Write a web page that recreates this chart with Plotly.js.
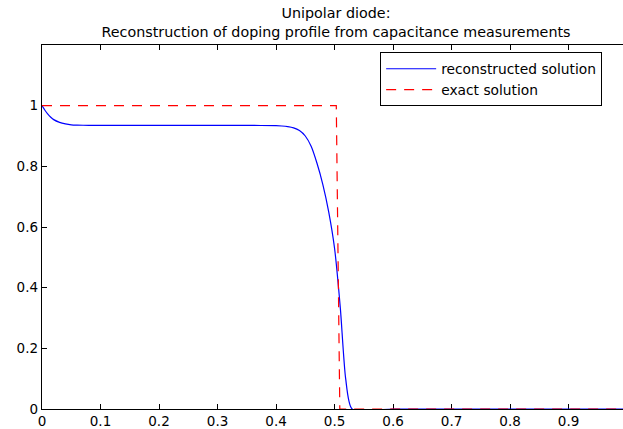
<!DOCTYPE html>
<html>
<head>
<meta charset="utf-8">
<script src="https://cdn.plot.ly/plotly-3.0.1.min.js"></script>
<style>
  html, body { margin: 0; padding: 0; background: #fff; }
  #chart { width: 623px; height: 429px; }
</style>
</head>
<body>
<div id="chart"></div>
<script>
// Reconstructed doping profile (from capacitance data)
const reconX = [0, 0.005, 0.01, 0.015, 0.02, 0.03, 0.04, 0.05, 0.06, 0.08,
                0.1, 0.15, 0.2, 0.25, 0.3, 0.35, 0.4, 0.41, 0.42, 0.43,
                0.44, 0.45, 0.46, 0.47, 0.48, 0.49, 0.5, 0.51, 0.519, 0.53,
                0.6, 0.7, 0.8, 0.9, 1.0];
const reconY = [1, 0.985, 0.972, 0.962, 0.954, 0.945, 0.94, 0.937, 0.936, 0.935,
                0.935, 0.935, 0.935, 0.935, 0.935, 0.935, 0.934, 0.933, 0.931, 0.927,
                0.918, 0.9, 0.866, 0.81, 0.74, 0.65, 0.53, 0.33, 0.1, 0,
                0, 0, 0, 0, 0];

// Exact step profile
const exactX = [0, 0.1, 0.2, 0.3, 0.4, 0.503, 0.509, 0.6, 0.7, 0.8, 0.9, 1.0];
const exactY = [1, 1, 1, 1, 1, 1, 0, 0, 0, 0, 0, 0];

const xTicks = [0, 0.1, 0.2, 0.3, 0.4, 0.5, 0.6, 0.7, 0.8, 0.9];
const xTickText = ['0', '0.1', '0.2', '0.3', '0.4', '0.5', '0.6', '0.7', '0.8', '0.9'];
const yTicks = [0, 0.2, 0.4, 0.6, 0.8, 1];
const yTickText = ['0', '0.2', '0.4', '0.6', '0.8', '1'];

const FONT = 'DejaVu Sans, Liberation Sans, Arial, sans-serif';

const traces = [
  {
    x: reconX, y: reconY, type: 'scatter', mode: 'lines',
    name: 'reconstructed solution',
    line: { color: '#0000ff', width: 1.2, shape: 'spline', smoothing: 0.6 }
  },
  {
    x: exactX, y: exactY, type: 'scatter', mode: 'lines',
    name: 'exact solution',
    line: { color: '#ff0000', width: 1.2, dash: '10px,8px' }
  }
];

const layout = {
  width: 623, height: 429,
  margin: { l: 41.7, r: 0, t: 44.7, b: 20 },
  paper_bgcolor: '#ffffff', plot_bgcolor: '#ffffff',
  font: { family: FONT, size: 13.5, color: '#000' },
  title: {
    text: 'Unipolar diode:<br>Reconstruction of doping profile from capacitance measurements',
    font: { family: FONT, size: 14.3, color: '#000' },
    x: 0.506, xref: 'paper', xanchor: 'center',
    y: 0.958, yref: 'container', yanchor: 'top'
  },
  xaxis: {
    range: [0, 0.993], showgrid: false, zeroline: false,
    tickmode: 'array', tickvals: xTicks, ticktext: xTickText,
    ticks: 'inside', ticklen: 5, tickcolor: '#000', tickwidth: 1,
    showline: true, linecolor: '#000', linewidth: 1.2, mirror: 'ticks',
    layer: 'below traces', tickfont: { family: FONT, size: 13.5, color: '#000' }
  },
  yaxis: {
    range: [0, 1.2], showgrid: false, zeroline: false,
    tickmode: 'array', tickvals: yTicks, ticktext: yTickText,
    ticks: 'inside', ticklen: 5, tickcolor: '#000', tickwidth: 1,
    showline: true, linecolor: '#000', linewidth: 1.2, mirror: false,
    layer: 'below traces', tickfont: { family: FONT, size: 13.5, color: '#000' }
  },
  showlegend: true,
  legend: {
    x: 0.582, y: 0.98, xanchor: 'left', yanchor: 'top',
    bgcolor: '#ffffff', bordercolor: '#000', borderwidth: 1,
    font: { family: FONT, size: 13.8, color: '#000' },
    itemwidth: 50, tracegroupgap: 0
  }
};

Plotly.newPlot('chart', traces, layout, { staticPlot: true, displayModeBar: false });
</script>
</body>
</html>
